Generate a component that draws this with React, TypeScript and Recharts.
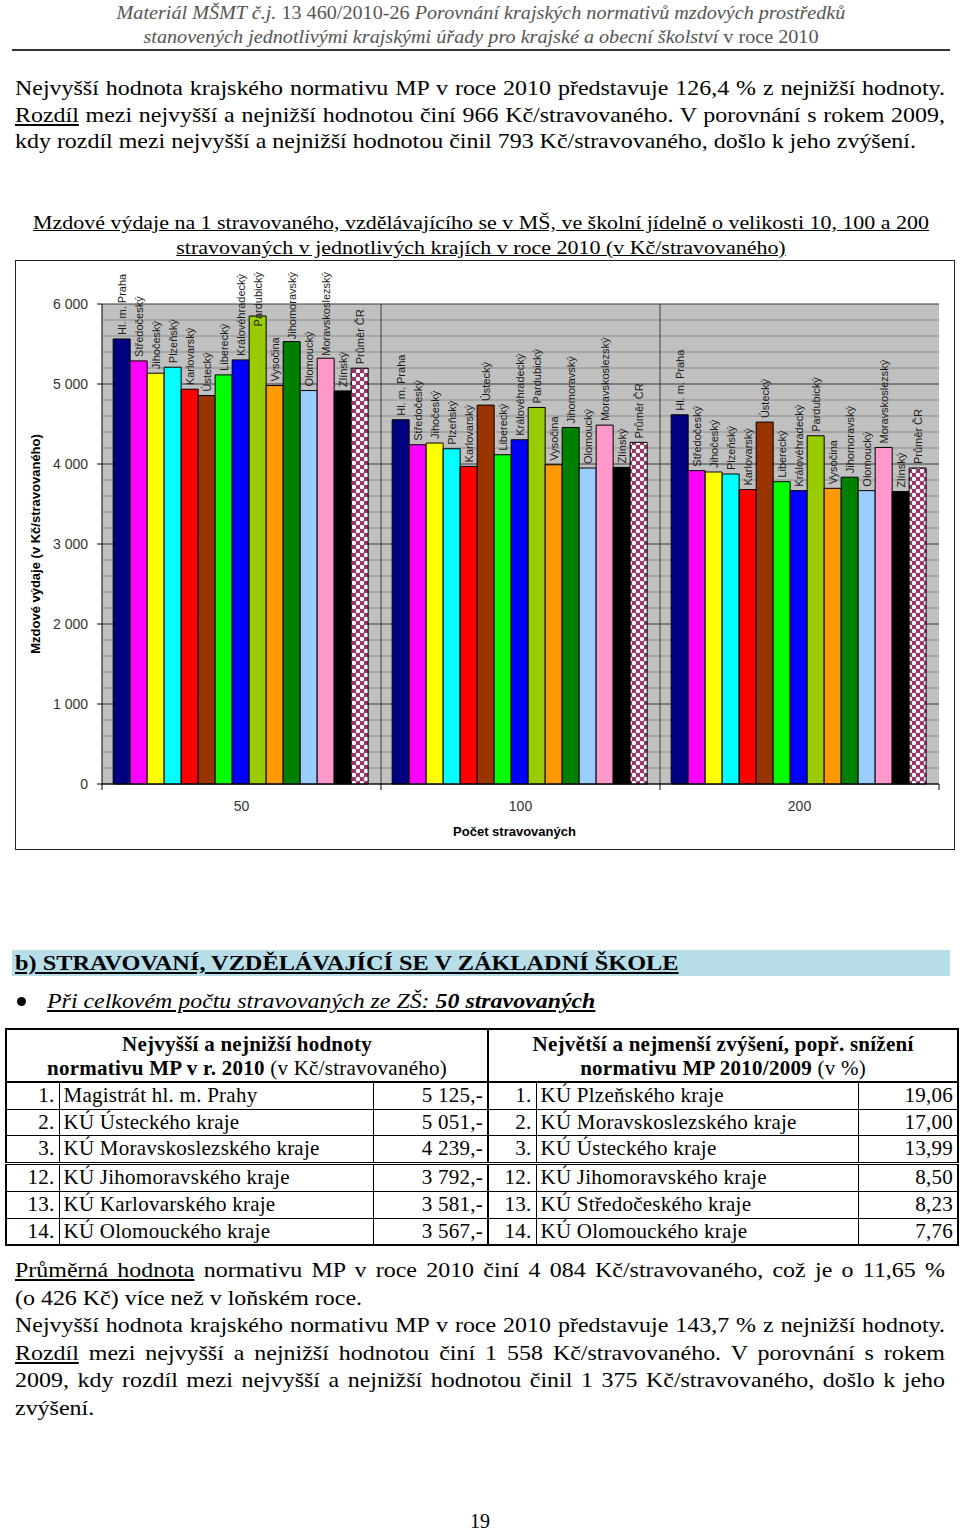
import React from 'react'
import { BarChart, Bar, XAxis, YAxis, CartesianGrid, LabelList } from 'recharts'

// chart data (Kč per stravovaný)
const regions = [
  'Hl. m. Praha', 'Středočeský', 'Jihočeský', 'Plzeňský', 'Karlovarský', 'Ústecký', 'Liberecký',
  'Královéhradecký', 'Pardubický', 'Vysočina', 'Jihomoravský', 'Olomoucký', 'Moravskoslezský',
  'Zlínský', 'Průměr ČR',
]
const sizes = ['50', '100', '200']
const values50 = [5563, 5289, 5135, 5210, 4935, 4856, 5114, 5301, 5850, 4981, 5530, 4918, 5322, 4914, 5197]
const values100 = [4553, 4241, 4262, 4191, 3970, 4736, 4116, 4303, 4707, 3991, 4457, 3950, 4486, 3958, 4270]
const values200 = [4615, 3917, 3900, 3875, 3680, 4524, 3779, 3667, 4353, 3696, 3835, 3667, 4207, 3655, 3950]
const yTicks = [0, 1000, 2000, 3000, 4000, 5000, 6000]

const barColors = [
  '#000080', '#ff00ff', '#ffff00', '#00ffff', '#ff0000', '#993300', '#00ff00',
  '#0000ff', '#99cc00', '#ff9900', '#008000', '#99ccff', '#ff99cc', '#000000', 'url(#avgPattern)',
]

// table data
const leftRanks = ['1.', '2.', '3.', '12.', '13.', '14.']
const leftNames = ['Magistrát hl. m. Prahy', 'KÚ Ústeckého kraje', 'KÚ Moravskoslezského kraje', 'KÚ Jihomoravského kraje', 'KÚ Karlovarského kraje', 'KÚ Olomouckého kraje']
const leftValues = ['5 125,-', '5 051,-', '4 239,-', '3 792,-', '3 581,-', '3 567,-']
const rightNames = ['KÚ Plzeňského kraje', 'KÚ Moravskoslezského kraje', 'KÚ Ústeckého kraje', 'KÚ Jihomoravského kraje', 'KÚ Středočeského kraje', 'KÚ Olomouckého kraje']
const rightValues = ['19,06', '17,00', '13,99', '8,50', '8,23', '7,76']

const sizeValues = [values50, values100, values200]
const chartData = sizes.map((s, i) => {
  const row: any = { size: s }
  regions.forEach((_, j) => { row['r' + j] = sizeValues[i][j] })
  return row
})

const SANS = '"Liberation Sans", Arial, sans-serif'
const SERIF = '"Liberation Serif", "Times New Roman", serif'
const LABEL_FONT = 11
const LABEL_TOP = 11

let ctx: any = null
function textWidth(s: string) {
  if (!ctx) {
    ctx = document.createElement('canvas').getContext('2d')
  }
  if (!ctx) return s.length * 6
  ctx.font = `${LABEL_FONT}px "Liberation Sans"`
  return ctx.measureText(s).width
}

const fmt = (v: number) => String(v).replace(/\B(?=(\d{3})+(?!\d))/g, ' ')

const makeLabel = (name: string) => (props: any) => {
  const x = Number(props.x), y = Number(props.y), w = Number(props.width)
  const cx = x + w / 2
  const len = textWidth(name)
  let start = y - 4
  if (start - len < LABEL_TOP) start = LABEL_TOP + len
  return (
    <text x={cx} y={start} transform={`rotate(-90 ${cx} ${start})`} dominantBaseline="central"
      fontSize={LABEL_FONT} fontFamily={SANS} fill="#1a1a1a">{name}</text>
  )
}

const XTick = (props: any) => {
  const { x, y, payload, index, visibleTicksCount } = props
  const w = Number(props.width) || 838
  const cw = w / (visibleTicksCount || 3)
  return (
    <g>
      <line x1={x - cw / 2} x2={x - cw / 2} y1={y} y2={y + 6} stroke="#000" />
      {index === visibleTicksCount - 1 && <line x1={x + cw / 2} x2={x + cw / 2} y1={y} y2={y + 6} stroke="#000" />}
      <text x={x} y={y + 22} textAnchor="middle" dominantBaseline="central" fontSize={14} fontFamily={SANS} fill="#333">{payload.value}</text>
    </g>
  )
}

function Chart() {
  const minor: number[] = []
  for (let v = 200; v < 6000; v += 200) if (v % 1000 !== 0) minor.push(v)
  return (
    <BarChart width={938} height={588} data={chartData} margin={{ top: 43, right: 15, bottom: 0, left: 0 }}
      barCategoryGap="4%" barGap={0}>
      <defs>
        <pattern id="avgPattern" width="8" height="8" patternUnits="userSpaceOnUse">
          <rect width="8" height="8" fill="#993366" />
          <circle cx="2" cy="2" r="2.2" fill="#fff" />
          <circle cx="6" cy="6" r="2.2" fill="#fff" />
        </pattern>
      </defs>
      <CartesianGrid fill="#c0c0c0" vertical={false} stroke="#8c8c8c"
        horizontalCoordinatesGenerator={(a: any) => {
          const o = a.offset || { top: 43, height: 481 }
          return minor.map(v => o.top + o.height * (1 - v / 6000))
        }} />
      <CartesianGrid vertical={false} stroke="#3a3a3a" fillOpacity={0} />
      <CartesianGrid horizontal={false} stroke="#3a3a3a" fillOpacity={0}
        verticalCoordinatesGenerator={(a: any) => {
          const o = a.offset || { left: 86, width: 837 }
          return [1, 2].map(i => o.left + (o.width * i) / 3)
        }} />
      <XAxis dataKey="size" height={65} tickSize={0} tickMargin={0} axisLine={{ stroke: '#000' }}
        tick={<XTick />}
        label={(p: any) => {
          const vb = p.viewBox || { x: 86, y: 524, width: 837 }
          return <text x={vb.x + vb.width / 2 - 6} y={vb.y + 47} textAnchor="middle" dominantBaseline="central"
            fontSize={13} fontWeight="bold" fontFamily={SANS} fill="#000">Počet stravovaných</text>
        }} />
      <YAxis width={86} domain={[0, 6000]} ticks={yTicks} tickFormatter={fmt} tickSize={5} tickMargin={9}
        axisLine={{ stroke: '#000' }} tickLine={{ stroke: '#000' }}
        tick={{ fontSize: 14, fontFamily: SANS, fill: '#333' }}
        label={(p: any) => {
          const vb = p.viewBox || { x: 0, y: 43, height: 481 }
          const cx = vb.x + 19, cy = vb.y + vb.height / 2
          return <text x={cx} y={cy} transform={`rotate(-90 ${cx} ${cy})`} textAnchor="middle" dominantBaseline="central"
            fontSize={13} fontWeight="bold" fontFamily={SANS} fill="#000">Mzdové výdaje  (v Kč/stravovaného)</text>
        }} />
      {regions.map((name, j) => (
        <Bar key={name} dataKey={'r' + j} fill={barColors[j]} stroke="#000" strokeWidth={1} isAnimationActive={false}>
          <LabelList dataKey={'r' + j} content={makeLabel(name)} />
        </Bar>
      ))}
    </BarChart>
  )
}

// the scanned page uses a wider serif than Liberation Serif, so text blocks are stretched horizontally
function Stretch({ left, top, width, scale, style, children }: any) {
  return (
    <div style={{ position: 'absolute', left, top, width: width / scale, transform: `scaleX(${scale})`, transformOrigin: '0 0', ...style }}>
      {children}
    </div>
  )
}

const just: any = { textAlign: 'justify', textAlignLast: 'justify', whiteSpace: 'nowrap' }
const cell: any = { border: '1px solid #000', padding: '0 4px', height: 25.7, lineHeight: '25.7px', letterSpacing: 0.25 }

export default function App() {
  return (
    <div style={{ position: 'absolute', left: 0, top: 0, width: 960, height: 1534, background: '#fff', fontFamily: SERIF, color: '#000', overflow: 'hidden' }}>
      {/* header */}
      <Stretch left={0} top={1} width={962} scale={1.12} style={{ textAlign: 'center', fontSize: 18, lineHeight: '24px', fontStyle: 'italic', color: '#555' }}>
        <div>Materiál MŠMT č.j. <span style={{ fontStyle: 'normal' }}>13 460/2010-26</span>  Porovnání krajských normativů mzdových prostředků</div>
        <div>stanovených jednotlivými krajskými úřady pro krajské a obecní školství <span style={{ fontStyle: 'normal' }}>v roce 2010</span></div>
      </Stretch>
      <div style={{ position: 'absolute', top: 49, left: 12, width: 938, height: 2, background: '#333' }} />

      {/* first paragraph */}
      <Stretch left={15} top={75} width={930} scale={1.14} style={{ fontSize: 21, lineHeight: '26.5px' }}>
        <div style={just}>Nejvyšší hodnota krajského normativu MP v roce 2010 představuje 126,4 % z nejnižší hodnoty.</div>
        <div style={just}><u>Rozdíl</u> mezi nejvyšší a nejnižší hodnotou činí 966 Kč/stravovaného. V porovnání s rokem 2009,</div>
        <div>kdy rozdíl mezi nejvyšší a nejnižší hodnotou činil 793 Kč/stravovaného, došlo k jeho zvýšení.</div>
      </Stretch>

      {/* chart title */}
      <Stretch left={0} top={210} width={962} scale={1.155} style={{ textAlign: 'center', fontSize: 19, lineHeight: '25px', textDecoration: 'underline' }}>
        <div>Mzdové výdaje na 1 stravovaného, vzdělávajícího se v MŠ, ve školní jídelně o velikosti 10, 100 a 200</div>
        <div>stravovaných v jednotlivých krajích v roce 2010  (v Kč/stravovaného)</div>
      </Stretch>

      {/* chart */}
      <div style={{ position: 'absolute', top: 260, left: 15, width: 940, height: 590, border: '1px solid #222', boxSizing: 'border-box', background: '#fff' }}>
        <Chart />
      </div>

      {/* section b */}
      <div style={{ position: 'absolute', top: 950, left: 12, width: 938, height: 26, background: '#b7dde8' }} />
      <Stretch left={15} top={949} width={700} scale={1.105} style={{ fontSize: 22, lineHeight: '28px', fontWeight: 'bold', textDecoration: 'underline' }}>
        b) STRAVOVANÍ, VZDĚLÁVAJÍCÍ SE V ZÁKLADNÍ ŠKOLE
      </Stretch>
      <div style={{ position: 'absolute', top: 997, left: 17, width: 9, height: 9, borderRadius: '50%', background: '#000' }} />
      <Stretch left={47} top={987} width={600} scale={1.137} style={{ fontSize: 21, lineHeight: '28px', fontStyle: 'italic', textDecoration: 'underline' }}>
        Při celkovém počtu stravovaných ze ZŠ: <b>50 stravovaných</b>
      </Stretch>

      {/* table */}
      <table style={{ position: 'absolute', top: 1028, left: 5, width: 952, borderCollapse: 'collapse', tableLayout: 'fixed', fontSize: 21, border: '2px solid #000' }}>
        <colgroup>
          <col style={{ width: 53 }} /><col style={{ width: 314 }} /><col style={{ width: 115 }} />
          <col style={{ width: 48 }} /><col style={{ width: 322 }} /><col style={{ width: 100 }} />
        </colgroup>
        <tbody>
          <tr>
            <td colSpan={3} style={{ border: '1px solid #000', borderRight: '2px solid #000', borderBottom: '2px solid #000', textAlign: 'center', lineHeight: '24px', height: 51, padding: 0, letterSpacing: 0.25 }}>
              <b>Nejvyšší a nejnižší hodnoty</b><br /><b>normativu MP v r. 2010</b> (v Kč/stravovaného)
            </td>
            <td colSpan={3} style={{ border: '1px solid #000', borderBottom: '2px solid #000', textAlign: 'center', lineHeight: '24px', padding: 0, letterSpacing: 0.25 }}>
              <b>Největší a nejmenší zvýšení, popř. snížení</b><br /><b>normativu MP 2010/2009</b> (v %)
            </td>
          </tr>
          {leftRanks.map((r, i) => {
            const top = i === 3 ? { borderTop: '3px double #000' } : {}
            return (
              <tr key={r}>
                <td style={{ ...cell, ...top, textAlign: 'right' }}>{r}</td>
                <td style={{ ...cell, ...top }}>{leftNames[i]}</td>
                <td style={{ ...cell, ...top, textAlign: 'right', borderRight: '2px solid #000' }}>{leftValues[i]}</td>
                <td style={{ ...cell, ...top, textAlign: 'right' }}>{r}</td>
                <td style={{ ...cell, ...top }}>{rightNames[i]}</td>
                <td style={{ ...cell, ...top, textAlign: 'right' }}>{rightValues[i]}</td>
              </tr>
            )
          })}
        </tbody>
      </table>

      {/* last paragraph */}
      <Stretch left={15} top={1257} width={930} scale={1.14} style={{ fontSize: 21, lineHeight: '27.6px' }}>
        <div style={just}><u>Průměrná hodnota</u> normativu MP v roce 2010 činí 4 084 Kč/stravovaného, což je o 11,65 %</div>
        <div>(o 426 Kč) více než v loňském roce.</div>
        <div style={just}>Nejvyšší hodnota krajského normativu MP v roce 2010 představuje 143,7 % z nejnižší hodnoty.</div>
        <div style={just}><u>Rozdíl</u> mezi nejvyšší a nejnižší hodnotou činí 1 558 Kč/stravovaného. V porovnání s rokem</div>
        <div style={just}>2009, kdy rozdíl mezi nejvyšší a nejnižší hodnotou činil 1 375 Kč/stravovaného, došlo k jeho</div>
        <div>zvýšení.</div>
      </Stretch>

      <div style={{ position: 'absolute', top: 1511, left: 470, fontSize: 20, lineHeight: '21px' }}>19</div>
    </div>
  )
}
